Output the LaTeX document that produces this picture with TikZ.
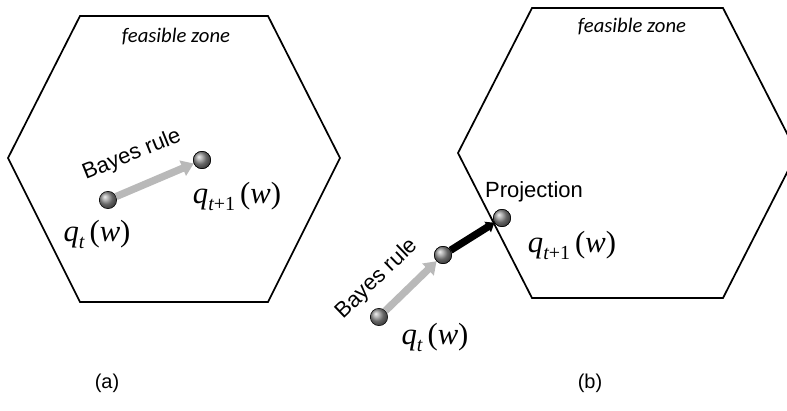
\documentclass[tikz,border=0pt]{standalone}
\usepackage{fontspec}
\setmainfont{Liberation Sans}
\newfontfamily\zonefont{Carlito}
\newfontfamily\serifmath{Liberation Serif}
\usetikzlibrary{arrows.meta,positioning}

\newcommand{\qof}[1]{{\serifmath\itshape q\raisebox{-0.5ex}{\fontsize{15}{15}\selectfont #1}\,\upshape(\itshape w\upshape)}}

\tikzset{
    dot/.style={circle, draw=black, line width=0.4pt, shading=ball, ball color=gray!85,
        minimum size=13pt, inner sep=0pt},
    bayesarrow/.style={gray!55, line width=5.5pt, -{Triangle[length=9pt,width=12pt]}},
    projarrow/.style={black, line width=5.5pt, -{Triangle[length=6pt,width=9pt]}},
    zone/.style={line width=1.3pt, line join=miter},
    qlabel/.style={font=\fontsize{23}{23}\selectfont},
    steplabel/.style={font=\fontsize{16.5}{16.5}\selectfont},
    zonelabel/.style={font=\zonefont\itshape\fontsize{15.5}{15.5}\selectfont}
}

\begin{document}
\begin{tikzpicture}[x=0.75pt, y=-0.75pt]
    \clip (0,0) rectangle (787,410);

    % Left panel - Bayes rule stays inside
    \draw[zone] (80,16) -- (268,16) -- (340,158) -- (268,302) -- (80,302) -- (8,158) -- cycle;
    \node[zonelabel] (zoneA) at (176,37) {feasible zone};
    \node[dot] (qa) at (108,200) {};
    \node[dot] (qb) at (202,160) {};
    \draw[bayesarrow] (qa) -- (qb);
    \node[dot] at (qb) {};
    \node[steplabel, rotate=22] (bayesA) at (132,155) {Bayes rule};
    \node[qlabel] (labqa) at (97,234) {\qof{t}};
    \node[qlabel] (labqb) at (237,196) {\qof{t\upshape+1}};
    \node[steplabel, font=\fontsize{15}{15}\selectfont] (capa) at (107,383) {(a)};

    % Right panel - Bayes rule leaves the zone, then projection
    \draw[zone] (532,8) -- (723,8) -- (797,153) -- (723,298) -- (532,298) -- (458,153) -- cycle;
    \node[zonelabel] (zoneB) at (632,27) {feasible zone};
    \node[dot] (pa) at (379,317) {};
    \node[dot] (pb) at (443,255) {};
    \node[dot] (pc) at (502,218) {};
    \draw[bayesarrow] (pa) -- (pb);
    \draw[projarrow] (pb) -- (pc);
    \node[dot] at (pb) {};
    \node[dot] at (pc) {};
    \node[steplabel, rotate=44] (bayesB) at (377,279) {Bayes rule};
    \node[steplabel] (projB) at (534,192) {Projection};
    \node[qlabel] (labpa) at (435,337) {\qof{t}};
    \node[qlabel] (labpc) at (572,245) {\qof{t\upshape+1}};
    \node[steplabel, font=\fontsize{15}{15}\selectfont] (capb) at (590,383) {(b)};
\end{tikzpicture}
\end{document}
